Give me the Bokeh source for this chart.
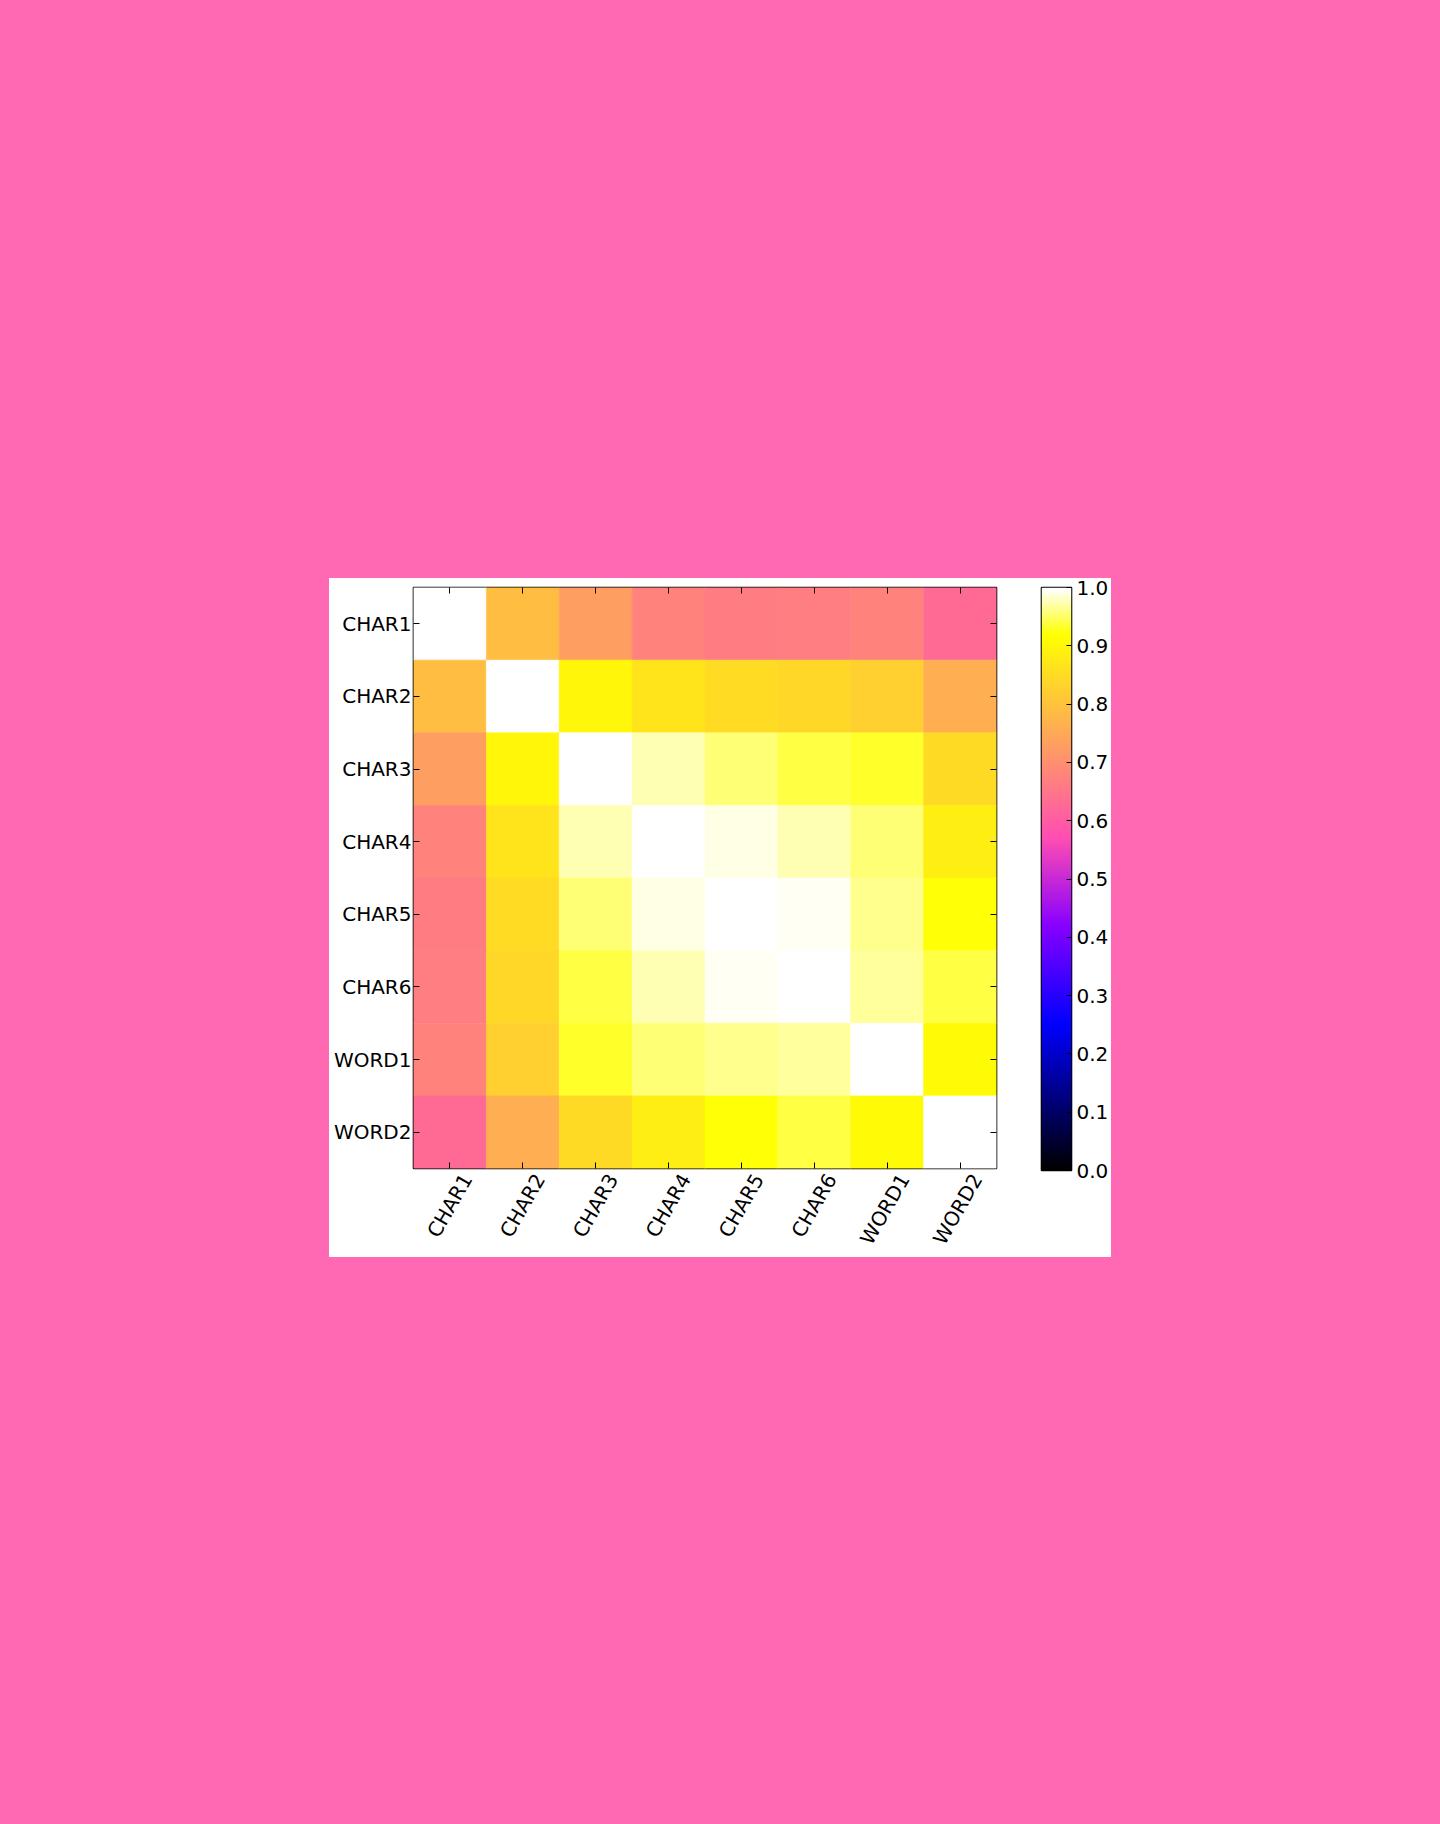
import numpy as np
from bokeh.plotting import figure
from bokeh.models import (ColumnDataSource, LinearColorMapper, FixedTicker, Range1d,
                          Spacer, CategoricalAxis, LinearAxis, PrintfTickFormatter)
from bokeh.layouts import row, column
from bokeh.transform import linear_cmap
from bokeh.embed import file_html
from bokeh.resources import INLINE

# ---------------- data ----------------
labels = ["CHAR1", "CHAR2", "CHAR3", "CHAR4", "CHAR5", "CHAR6", "WORD1", "WORD2"]
r_char1 = [1.000, 0.790, 0.730, 0.675, 0.663, 0.665, 0.672, 0.628]
r_char2 = [0.790, 1.000, 0.902, 0.867, 0.848, 0.843, 0.828, 0.761]
r_char3 = [0.730, 0.902, 1.000, 0.974, 0.954, 0.940, 0.930, 0.845]
r_char4 = [0.675, 0.867, 0.974, 1.000, 0.990, 0.974, 0.954, 0.885]
r_char5 = [0.663, 0.848, 0.954, 0.990, 1.000, 0.994, 0.962, 0.920]
r_char6 = [0.665, 0.843, 0.940, 0.974, 0.994, 1.000, 0.967, 0.940]
r_word1 = [0.672, 0.828, 0.930, 0.954, 0.962, 0.967, 1.000, 0.910]
r_word2 = [0.628, 0.761, 0.845, 0.885, 0.920, 0.940, 0.910, 1.000]
matrix = [r_char1, r_char2, r_char3, r_char4, r_char5, r_char6, r_word1, r_word2]
cbar_ticks = [0.0, 0.1, 0.2, 0.3, 0.4, 0.5, 0.6, 0.7, 0.8, 0.9, 1.0]

# ---------------- gnuplot2 colormap ----------------
def gnuplot2(x):
    r = np.clip(x / 0.32 - 0.78125, 0, 1)
    g = np.clip(2 * x - 0.84, 0, 1)
    b = np.clip(np.where(x < 0.25, 4 * x, np.where(x < 0.92, -2 * x + 1.84, x / 0.08 - 11.5)), 0, 1)
    return r, g, b

xs = np.linspace(0, 1, 256)
R, G, B = gnuplot2(xs)
palette = ["#%02x%02x%02x" % (int(round(r * 255)), int(round(g * 255)), int(round(b * 255)))
           for r, g, b in zip(R, G, B)]

FONT = "DejaVu Sans"
FS = "20px"
PINK = "#FF69B4"
LEFT_BORDER = 84

# column positions on a numeric x scale (one unit per category)
centers = [i + 0.5 for i in range(len(labels))]

# ---------------- main heatmap ----------------
xpos, ycat, vals = [], [], []
for i, rowvals in enumerate(matrix):
    for j, v in enumerate(rowvals):
        xpos.append(centers[j])
        ycat.append(labels[i])
        vals.append(v)
src = ColumnDataSource(dict(x=xpos, y=ycat, v=vals))

p = figure(x_range=Range1d(0, len(labels)), y_range=list(reversed(labels)),
           frame_width=583, frame_height=581,
           min_border_left=LEFT_BORDER, min_border_right=2, min_border_top=9, min_border_bottom=60,
           output_backend="svg", toolbar_location=None,
           background_fill_color="white", border_fill_color="white")
cmap = linear_cmap("v", palette, 0, 1)
p.rect(x="x", y="y", width=1, height=1, source=src, fill_color=cmap, line_color=cmap, line_width=0.6)
p.grid.visible = False
p.outline_line_color = "black"
p.outline_line_width = 1.6

tick_style = dict(axis_line_color=None, major_tick_in=6, major_tick_out=0,
                  major_tick_line_color="black", major_tick_line_width=1,
                  minor_tick_line_color=None)

yax = p.yaxis[0]
yax.update(**tick_style)
yax.major_label_text_font = FONT
yax.major_label_text_font_size = FS
yax.major_label_text_color = "black"
yax.major_label_standoff = 2

# bottom axis: ticks only
xax = p.xaxis[0]
xax.update(**tick_style)
xax.ticker = FixedTicker(ticks=centers)
xax.major_label_text_color = None
xax.major_label_text_font_size = "0px"
xax.major_label_standoff = 0

# bottom labels, rotated 60 deg, centred under the ticks (matplotlib style)
d = 0.234
lab_pos = [c + d for c in centers]
lab_ax = LinearAxis(ticker=FixedTicker(ticks=lab_pos),
                    major_label_overrides={pos: name for pos, name in zip(lab_pos, labels)},
                    axis_line_color=None, major_tick_line_color=None, minor_tick_line_color=None,
                    major_label_orientation=np.pi / 3, major_label_standoff=1,
                    major_label_text_font=FONT, major_label_text_font_size=FS,
                    major_label_text_color="black")
p.add_layout(lab_ax, "below")

top_ax = LinearAxis(ticker=FixedTicker(ticks=centers), major_label_text_font_size="0px",
                    major_label_text_color=None, major_label_standoff=0, **tick_style)
p.add_layout(top_ax, "above")
right_ax = CategoricalAxis(major_label_text_font_size="0px", major_label_text_color=None,
                           major_label_standoff=0, **tick_style)
p.add_layout(right_ax, "right")

# ---------------- colour bar ----------------
mapper = LinearColorMapper(palette=palette, low=0, high=1)
pc = figure(x_range=Range1d(0, 1), y_range=Range1d(0, 1),
            frame_width=30, frame_height=583,
            min_border_left=43, min_border_right=0, min_border_top=8, min_border_bottom=76,
            x_axis_location=None, y_axis_location="right",
            output_backend="svg", toolbar_location=None,
            background_fill_color="white", border_fill_color="white")
grad = np.linspace(0, 1, 256).reshape(256, 1)
pc.image(image=[grad], x=0, y=0, dw=1, dh=1, color_mapper=mapper)
pc.grid.visible = False
pc.outline_line_color = "black"
pc.outline_line_width = 1.6
cax = pc.yaxis[0]
cax.ticker = FixedTicker(ticks=cbar_ticks)
cax.formatter = PrintfTickFormatter(format="%.1f")
cax.axis_line_color = None
cax.major_tick_in = 5
cax.major_tick_out = 0
cax.minor_tick_line_color = None
cax.major_tick_line_color = "black"
cax.major_label_text_font = FONT
cax.major_label_text_font_size = FS
cax.major_label_text_color = "black"
cax.major_label_standoff = 5

# white figure area holding heatmap + colour bar, on a pink page
fig_area = row(p, pc, styles={"background-color": "white"})

page = column(Spacer(width=1440, height=578),
              row(Spacer(width=413 - LEFT_BORDER, height=667), fig_area),
              width=1440, height=1824, styles={"background-color": PINK})

open("out.html", "w").write(file_html(page, INLINE))
